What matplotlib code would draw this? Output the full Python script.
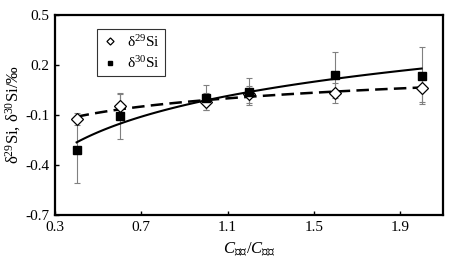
import numpy as np
import matplotlib
matplotlib.use("Agg")
import matplotlib.pyplot as plt

plt.rcParams["font.family"] = ["Liberation Serif", "DejaVu Serif"]
plt.rcParams["mathtext.fontset"] = "custom"
plt.rcParams["mathtext.rm"] = "Liberation Serif"
plt.rcParams["mathtext.it"] = "Liberation Serif:italic"
plt.rcParams["mathtext.sf"] = "Noto Sans CJK SC"
plt.rcParams["axes.unicode_minus"] = False

# concentration ratio C_sample / C_standard
ratio = [0.4, 0.6, 1.0, 1.2, 1.6, 2.0]
d29 = [-0.126, -0.046, -0.02, 0.024, 0.034, 0.06]
d29_err = [0.035, 0.07, 0.05, 0.05, 0.06, 0.085]
d30 = [-0.31, -0.106, 0.004, 0.04, 0.14, 0.136]
d30_err = [0.2, 0.14, 0.075, 0.08, 0.14, 0.17]

xticks = [0.3, 0.7, 1.1, 1.5, 1.9]
yticks = [0.5, 0.2, -0.1, -0.4, -0.7]


def log_fit(x, y):
    b, a = np.polyfit(np.log(x), y, 1)
    xs = np.linspace(min(x), max(x), 100)
    return xs, a + b * np.log(xs)


def main():
    fig = plt.figure(figsize=(4.55, 2.61), dpi=100)
    ax = fig.add_axes([0.121, 0.176, 0.853, 0.767])

    ax.errorbar(ratio, d30, yerr=d30_err, fmt="none", ecolor="#808080",
                elinewidth=0.8, capsize=2, capthick=0.8, zorder=1)
    ax.errorbar(ratio, d29, yerr=d29_err, fmt="none", ecolor="#808080",
                elinewidth=0.8, capsize=2, capthick=0.8, zorder=1)

    xs, ys = log_fit(ratio, d29)
    ax.plot(xs, ys, color="black", lw=1.8, ls=(0, (5, 2.5)), zorder=2)
    xs, ys = log_fit(ratio, d30)
    ax.plot(xs, ys, color="black", lw=1.5, zorder=2)

    ax.plot(ratio, d29, ls="none", marker="D", ms=6, mfc="white",
            mec="black", mew=0.9, label=r"δ$^{29}$Si", zorder=3)
    ax.plot(ratio, d30, ls="none", marker="s", ms=6, mfc="black",
            mec="black", label=r"δ$^{30}$Si", zorder=3)

    ax.set_xlim(0.3, 2.1)
    ax.set_ylim(-0.7, 0.5)
    ax.set_xticks(xticks)
    ax.set_yticks(yticks)
    ax.set_xticklabels([f"{t:.1f}" for t in xticks])
    ax.set_yticklabels([f"{t:.1f}" for t in yticks])
    ax.tick_params(direction="in", length=3, width=1, labelsize=11, pad=4)
    for s in ax.spines.values():
        s.set_linewidth(1.6)

    ax.set_ylabel(r"δ$^{29}$Si, δ$^{30}$Si/‰", fontsize=12, labelpad=2)
    ax.set_xlabel(r"$C_{\mathsf{样品}}/C_{\mathsf{标样}}$", fontsize=12, labelpad=5)

    leg = ax.legend(loc="upper left", bbox_to_anchor=(0.088, 0.97),
                    fontsize=11, frameon=True, fancybox=False, handlelength=1,
                    handletextpad=0.6, borderpad=0.35, labelspacing=0.35,
                    markerscale=0.6)
    leg.get_frame().set_edgecolor("black")
    leg.get_frame().set_linewidth(0.8)

    fig.savefig("out.png", dpi=100)


if __name__ == "__main__":
    main()
